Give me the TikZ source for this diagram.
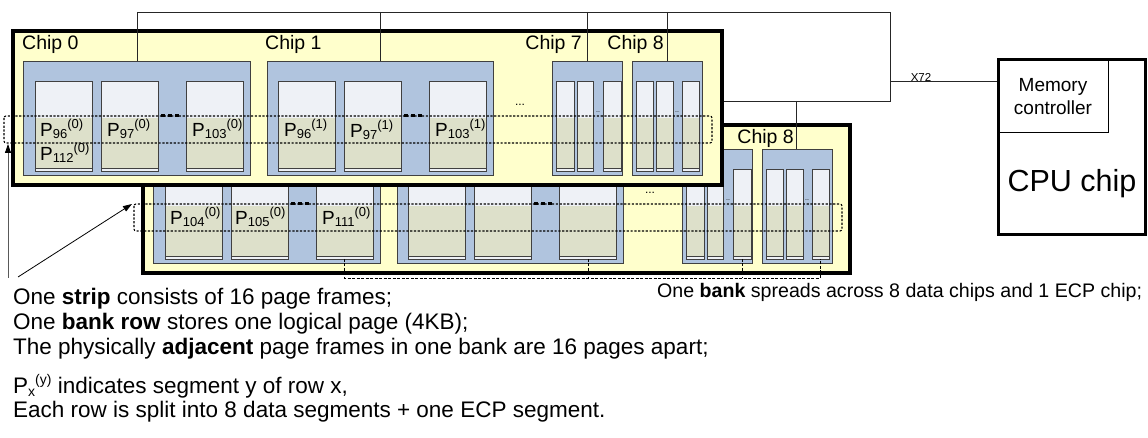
\documentclass[tikz,border=0pt]{standalone}
\usepackage{fontspec}
\setmainfont{Liberation Sans}
\usetikzlibrary{arrows.meta}
\definecolor{boardY}{HTML}{FFFFCC}
\definecolor{bankB}{HTML}{B0C4DE}
\definecolor{pgTop}{HTML}{EEF1F6}
\definecolor{pgBot}{HTML}{DDE0CA}
\definecolor{edgeG}{HTML}{404040}
\newcommand\Pseg[2]{P\raisebox{-1.5pt}{\fontsize{13}{13}\selectfont #1}\raisebox{8.5pt}{\fontsize{13}{13}\selectfont(#2)}}
\newcommand\pgFrame[2]{%
  \fill[pgTop] (#1,81) rectangle (#2,171);
  \fill[pgBot] (#1,118) rectangle (#2,168);
  \draw[edgeG,line width=0.6pt] (#1,168) -- (#2,168);
  \draw[edgeG,line width=0.9pt] (#1,81) rectangle (#2,171);
}
\newcommand\chipSet{%
  \foreach \a/\b in {23/250,267/493,552/622,632/702}
    \draw[edgeG,fill=bankB,line width=0.8pt] (\a,61) rectangle (\b,175);
  \foreach \a/\b in {35/92,101/158,186/243,278/335,344/401,429/486,556/574,577/593,603/621,636/653,656/673,682/699}
    \pgFrame{\a}{\b};
  \foreach \x in {161,168,175,404,411,418}
    \fill[black] (\x,114.5) rectangle ++(4,3);
  \node[inner sep=0pt,font=\fontsize{7}{7}\selectfont] at (598,112) {..};
  \node[inner sep=0pt,font=\fontsize{7}{7}\selectfont] at (677,112) {..};
  \node[inner sep=0pt,font=\fontsize{12}{12}\selectfont] at (520,105) {...};
  \draw[stripline] (4,116) rectangle (712,143);
}
\tikzset{
  chiplbl/.style={font=\fontsize{19.5}{20}\selectfont, inner sep=0pt},
  plbl/.style={font=\fontsize{19}{20}\selectfont, inner sep=0pt, anchor=base west},
  wire/.style={draw=black!85, line width=0.8pt},
  stripline/.style={draw=black, line width=1.1pt, dash pattern=on 2.2pt off 1.6pt, rounded corners=2pt},
  boardline/.style={draw=black, line width=4pt, fill=boardY},
  notetext/.style={inner sep=0pt, anchor=base west, font=\fontsize{22.5}{24}\selectfont},
  bracket/.style={draw=black, line width=0.7pt, dash pattern=on 3pt off 1.5pt},
}
\begin{document}
\begin{tikzpicture}[x=1pt,y=-1pt]
\useasboundingbox (0,0) rectangle (1148,438);

% ---------- back board ----------
\draw[boardline] (143,125) rectangle (850,273);
\begin{scope}[shift={(130,88)}]
  \chipSet
\end{scope}
\node[chiplbl,anchor=east] (bc8) at (794,138) {Chip 8};
\node[plbl] (p104) at (170,225) {\Pseg{104}{0}};
\node[plbl] (p105) at (235,225) {\Pseg{105}{0}};
\node[plbl] (p111) at (322,225) {\Pseg{111}{0}};

% ---------- wires ----------
\coordinate (t0) at (137,12);
\coordinate (t0b) at (137,61);
\coordinate (tR) at (890,12);
\coordinate (tRb) at (890,101);
\coordinate (fR) at (722,101);
\coordinate (b8t) at (796,101);
\coordinate (b8b) at (796,149);
\coordinate (xL) at (890,81);
\coordinate (xR) at (998,81);
\draw[wire] (t0b) -- (t0) -- (tR) -- (tRb) -- (fR);
\draw[wire] (b8t) -- (b8b);
\draw[wire] (xL) -- (xR);
\node[inner sep=0pt,anchor=south,font=\fontsize{11.5}{12}\selectfont] (x72) at (921,81.5) {X72};

% ---------- front board ----------
\draw[boardline] (13,31) rectangle (722,185);
\chipSet
\coordinate (c1t) at (380,12);
\coordinate (c1b) at (380,61);
\coordinate (c7t) at (587,12);
\coordinate (c7b) at (587,61);
\coordinate (c8t) at (667,12);
\coordinate (c8b) at (667,61);
\draw[wire] (c1t) -- (c1b);
\draw[wire] (c7t) -- (c7b);
\draw[wire] (c8t) -- (c8b);
\draw[wire] (t0) -- (t0b);
\node[chiplbl,anchor=west] (fc0) at (22,44) {Chip 0};
\node[chiplbl,anchor=west] (fc1) at (265,44) {Chip 1};
\node[chiplbl,anchor=east] (fc7) at (582,44) {Chip 7};
\node[chiplbl,anchor=east] (fc8) at (664,44) {Chip 8};
\node[plbl] (p96a) at (40,137) {\Pseg{96}{0}};
\node[plbl] (p112) at (40,161) {\Pseg{112}{0}};
\node[plbl] (p97a) at (107,137) {\Pseg{97}{0}};
\node[plbl] (p103a) at (192,137) {\Pseg{103}{0}};
\node[plbl] (p96b) at (284,137) {\Pseg{96}{1}};
\node[plbl] (p97b) at (350,138) {\Pseg{97}{1}};
\node[plbl] (p103b) at (435,137) {\Pseg{103}{1}};

% ---------- CPU ----------
\draw[draw=black,line width=3pt] (998,60) rectangle (1145.5,235);
\draw[draw=black,line width=1pt] (998,60) rectangle (1108,133);
\node[inner sep=0pt,align=center,font=\fontsize{19}{23}\selectfont] (mc) at (1053,97) {Memory\\controller};
\node[inner sep=0pt,font=\fontsize{30.5}{32}\selectfont] (cpu) at (1072,184) {CPU chip};

% ---------- bank bracket ----------
\coordinate (k1) at (344,259); \coordinate (k1b) at (344,278);
\coordinate (k2) at (588,259); \coordinate (k2b) at (588,278);
\coordinate (k3) at (742,259); \coordinate (k3b) at (742,278);
\coordinate (k4) at (820,259); \coordinate (k4b) at (820,278);
\draw[bracket] (k1) -- (k1b) -- (k4b) -- (k4);
\draw[bracket] (k2) -- (k2b);
\draw[bracket] (k3) -- (k3b);

% ---------- arrows ----------
\coordinate (a1s) at (8,278);
\coordinate (a1e) at (8,144);
\coordinate (a2s) at (18,277);
\coordinate (a2e) at (132,204);
\draw[draw=black!65,line width=0.8pt,-{Triangle[length=9pt,width=6pt,color=black]}] (a1s) -- (a1e);
\draw[draw=black,line width=0.8pt,-{Triangle[length=9pt,width=6pt]}] (a2s) -- (a2e);

% ---------- notes ----------
\node[notetext] (n1) at (13,305) {One \textbf{strip} consists of 16 page frames;};
\node[notetext] (n2) at (13,329.5) {One \textbf{bank row} stores one logical page (4KB);};
\node[notetext] (n3) at (13,354) {The physically \textbf{adjacent} page frames in one bank are 16 pages apart;};
\node[notetext] (n5) at (13,393) {P\raisebox{-3pt}{\fontsize{14}{14}\selectfont x}\raisebox{9pt}{\fontsize{14}{14}\selectfont(y)} indicates segment y of row x,};
\node[notetext] (n6) at (13,417) {Each row is split into 8 data segments + one ECP segment.};
\node[inner sep=0pt,anchor=base west,font=\fontsize{19.6}{21}\selectfont] (nb) at (657,298) {One \textbf{bank} spreads across 8 data chips and 1 ECP chip;};
\end{tikzpicture}
\end{document}
